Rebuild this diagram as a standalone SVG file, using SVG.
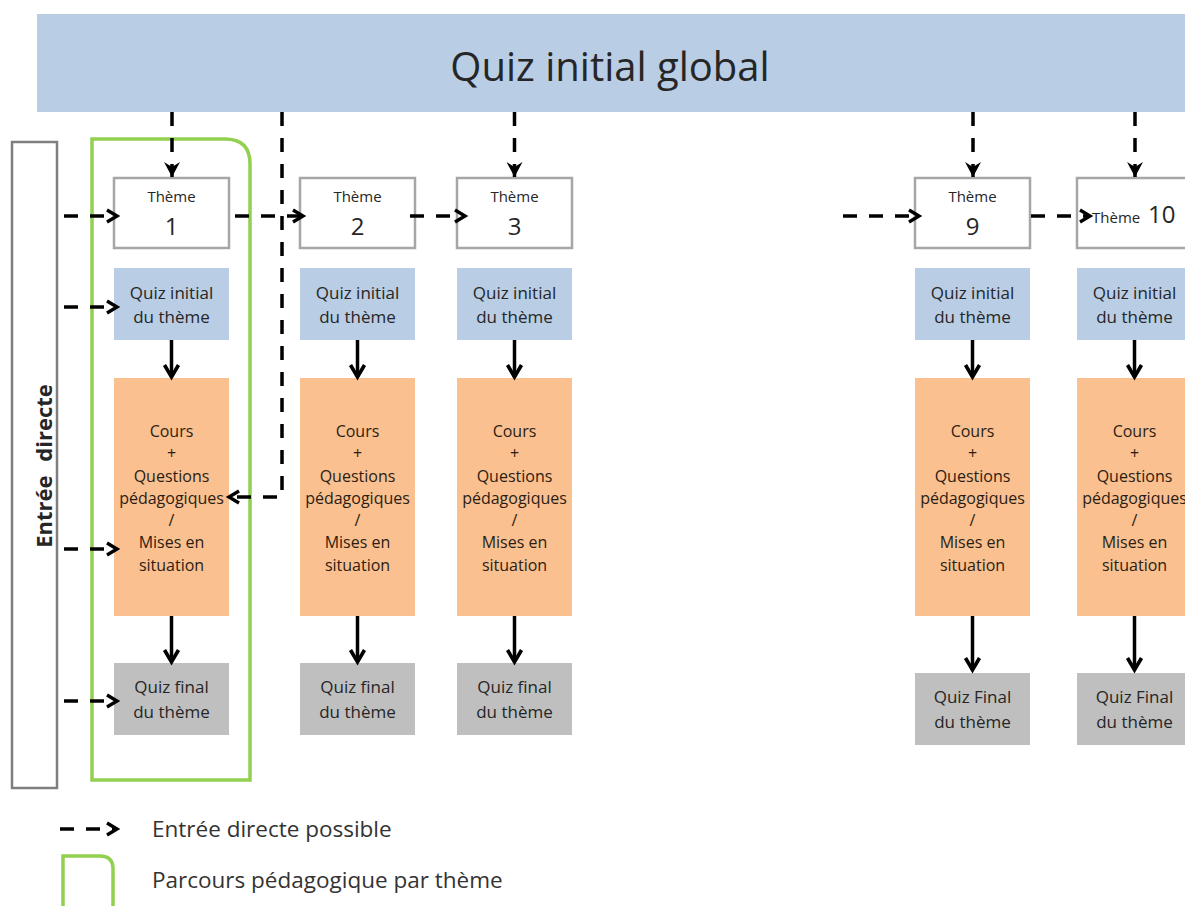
<svg xmlns="http://www.w3.org/2000/svg" width="1185" height="906" viewBox="0 0 1185 906">
<defs>
<style>
text{font-family:"Open Sans","Noto Sans","Liberation Sans",sans-serif;fill:#262626;text-anchor:middle}
.theme{fill:#fff;stroke:#a6a6a6;stroke-width:2.5}
.qi{fill:#b9cde5}
.cours{fill:#fac090}
.qf{fill:#bfbfbf}
.t15{font-size:15px}
.num{font-size:24px}
.t17{font-size:17px}
.ct{font-size:16px;fill:#2b1d12}
.lg{font-size:22.5px;text-anchor:start;fill:#333}
.dash{fill:none;stroke:#000;stroke-width:3.5;stroke-dasharray:14 12}
.solid{fill:none;stroke:#000;stroke-width:3.5}
</style>
<marker id="open" viewBox="-3 -3 18 18" refX="11" refY="6" markerWidth="18" markerHeight="18" markerUnits="userSpaceOnUse" orient="auto">
<path d="M1,0 L11,6 L1,12" fill="none" stroke="#000" stroke-width="3.4"/>
</marker>
<marker id="openL" viewBox="-3 -3 20 20" refX="13" refY="7" markerWidth="20" markerHeight="20" markerUnits="userSpaceOnUse" orient="auto">
<path d="M1,0 L13,7 L1,14" fill="none" stroke="#000" stroke-width="3.6"/>
</marker>
<marker id="fill" viewBox="0 0 16 16" refX="15" refY="8" markerWidth="16" markerHeight="16" markerUnits="userSpaceOnUse" orient="auto">
<path d="M0,0 L15,8 L0,16 L5,8 z" fill="#000"/>
</marker>
</defs>
<rect width="1185" height="906" fill="#fff"/>

<g id="quiz-global">
<rect x="37" y="14" width="1160" height="98" fill="#b9cde5"/>
<text x="610" y="81" style="font-size:40px">Quiz initial global</text>
</g>

<g id="entree-directe">
<rect x="12" y="142" width="45" height="646" fill="#fff" stroke="#7f7f7f" stroke-width="2.5"/>
<text transform="translate(52,466) rotate(-90)" style="font-size:22px;font-weight:bold">Entrée<tspan dx="8"> directe</tspan></text>
</g>

<g id="parcours">
<path d="M92,139 H225 Q250,139 250,164 V780 H92 Z" fill="none" stroke="#92d050" stroke-width="3.5"/>
</g>

<g id="col1">
<g id="theme1"><rect class="theme" x="114" y="178" width="115" height="70"/><text class="t15" x="171.5" y="202">Thème</text><text class="num" x="171.5" y="235">1</text></g>
<g id="qi1"><rect class="qi" x="114" y="268" width="115" height="72"/><text class="t17" x="171.5" y="299">Quiz initial</text><text class="t17" x="171.5" y="323">du thème</text></g>
<g id="cours1"><rect class="cours" x="114" y="378" width="115" height="238"/><text class="ct"><tspan x="171.5" y="437">Cours</tspan><tspan x="171.5" y="459">+</tspan><tspan x="171.5" y="482">Questions</tspan><tspan x="171.5" y="504">pédagogiques</tspan><tspan x="171.5" y="526">/</tspan><tspan x="171.5" y="548">Mises en</tspan><tspan x="171.5" y="571">situation</tspan></text></g>
<g id="qf1"><rect class="qf" x="114" y="663" width="115" height="72"/><text class="t17" x="171.5" y="693">Quiz final</text><text class="t17" x="171.5" y="718">du thème</text></g>
</g>

<g id="col2">
<g id="theme2"><rect class="theme" x="300" y="178" width="115" height="70"/><text class="t15" x="357.5" y="202">Thème</text><text class="num" x="357.5" y="235">2</text></g>
<g id="qi2"><rect class="qi" x="300" y="268" width="115" height="72"/><text class="t17" x="357.5" y="299">Quiz initial</text><text class="t17" x="357.5" y="323">du thème</text></g>
<g id="cours2"><rect class="cours" x="300" y="378" width="115" height="238"/><text class="ct"><tspan x="357.5" y="437">Cours</tspan><tspan x="357.5" y="459">+</tspan><tspan x="357.5" y="482">Questions</tspan><tspan x="357.5" y="504">pédagogiques</tspan><tspan x="357.5" y="526">/</tspan><tspan x="357.5" y="548">Mises en</tspan><tspan x="357.5" y="571">situation</tspan></text></g>
<g id="qf2"><rect class="qf" x="300" y="663" width="115" height="72"/><text class="t17" x="357.5" y="693">Quiz final</text><text class="t17" x="357.5" y="718">du thème</text></g>
</g>

<g id="col3">
<g id="theme3"><rect class="theme" x="457" y="178" width="115" height="70"/><text class="t15" x="514.5" y="202">Thème</text><text class="num" x="514.5" y="235">3</text></g>
<g id="qi3"><rect class="qi" x="457" y="268" width="115" height="72"/><text class="t17" x="514.5" y="299">Quiz initial</text><text class="t17" x="514.5" y="323">du thème</text></g>
<g id="cours3"><rect class="cours" x="457" y="378" width="115" height="238"/><text class="ct"><tspan x="514.5" y="437">Cours</tspan><tspan x="514.5" y="459">+</tspan><tspan x="514.5" y="482">Questions</tspan><tspan x="514.5" y="504">pédagogiques</tspan><tspan x="514.5" y="526">/</tspan><tspan x="514.5" y="548">Mises en</tspan><tspan x="514.5" y="571">situation</tspan></text></g>
<g id="qf3"><rect class="qf" x="457" y="663" width="115" height="72"/><text class="t17" x="514.5" y="693">Quiz final</text><text class="t17" x="514.5" y="718">du thème</text></g>
</g>

<g id="col9">
<g id="theme9"><rect class="theme" x="915" y="178" width="115" height="70"/><text class="t15" x="972.5" y="202">Thème</text><text class="num" x="972.5" y="235">9</text></g>
<g id="qi9"><rect class="qi" x="915" y="268" width="115" height="72"/><text class="t17" x="972.5" y="299">Quiz initial</text><text class="t17" x="972.5" y="323">du thème</text></g>
<g id="cours9"><rect class="cours" x="915" y="378" width="115" height="238"/><text class="ct"><tspan x="972.5" y="437">Cours</tspan><tspan x="972.5" y="459">+</tspan><tspan x="972.5" y="482">Questions</tspan><tspan x="972.5" y="504">pédagogiques</tspan><tspan x="972.5" y="526">/</tspan><tspan x="972.5" y="548">Mises en</tspan><tspan x="972.5" y="571">situation</tspan></text></g>
<g id="qf9"><rect class="qf" x="915" y="673" width="115" height="72"/><text class="t17" x="972.5" y="703">Quiz Final</text><text class="t17" x="972.5" y="728">du thème</text></g>
</g>

<g id="col10">
<g id="theme10"><rect class="theme" x="1077" y="178" width="120" height="70"/><text class="t15" x="1092" y="223" style="text-anchor:start">Thème</text><text class="num" x="1148" y="223" style="text-anchor:start">10</text></g>
<g id="qi10"><rect class="qi" x="1077" y="268" width="120" height="72"/><text class="t17" x="1134.5" y="299">Quiz initial</text><text class="t17" x="1134.5" y="323">du thème</text></g>
<g id="cours10"><rect class="cours" x="1077" y="378" width="120" height="238"/><text class="ct"><tspan x="1134.5" y="437">Cours</tspan><tspan x="1134.5" y="459">+</tspan><tspan x="1134.5" y="482">Questions</tspan><tspan x="1134.5" y="504">pédagogiques</tspan><tspan x="1134.5" y="526">/</tspan><tspan x="1134.5" y="548">Mises en</tspan><tspan x="1134.5" y="571">situation</tspan></text></g>
<g id="qf10"><rect class="qf" x="1077" y="673" width="120" height="72"/><text class="t17" x="1134.5" y="703">Quiz Final</text><text class="t17" x="1134.5" y="728">du thème</text></g>
</g>

<g id="connectors">
<path class="dash" d="M172,112 V177" marker-end="url(#fill)"/>
<path class="dash" d="M514.5,112 V177" marker-end="url(#fill)"/>
<path class="dash" d="M973,112 V177" marker-end="url(#fill)"/>
<path class="dash" d="M1135,112 V177" marker-end="url(#fill)"/>
<path class="dash" d="M282,112 V497 H229" marker-end="url(#open)"/>
<path class="dash" d="M64,216 H117" marker-end="url(#open)"/>
<path class="dash" d="M64,307 H117" marker-end="url(#open)"/>
<path class="dash" d="M64,549 H117" marker-end="url(#open)"/>
<path class="dash" d="M64,701 H117" marker-end="url(#open)"/>
<path class="dash" d="M235,216 H303" marker-end="url(#open)"/>
<path class="dash" d="M410,216 H465" marker-end="url(#open)"/>
<path class="dash" d="M843,216 H919" marker-end="url(#open)"/>
<path class="dash" d="M1031,216 H1090" marker-end="url(#open)"/>
<path class="solid" d="M171.5,340 V377" marker-end="url(#openL)"/>
<path class="solid" d="M171.5,616 V662" marker-end="url(#openL)"/>
<path class="solid" d="M357.5,340 V377" marker-end="url(#openL)"/>
<path class="solid" d="M357.5,616 V662" marker-end="url(#openL)"/>
<path class="solid" d="M514.5,340 V377" marker-end="url(#openL)"/>
<path class="solid" d="M514.5,616 V662" marker-end="url(#openL)"/>
<path class="solid" d="M972.5,340 V377" marker-end="url(#openL)"/>
<path class="solid" d="M972.5,616 V670" marker-end="url(#openL)"/>
<path class="solid" d="M1134.5,340 V377" marker-end="url(#openL)"/>
<path class="solid" d="M1134.5,616 V670" marker-end="url(#openL)"/>
</g>

<g id="legend">
<path class="dash" d="M60,829 H117" marker-end="url(#open)"/>
<text class="lg" x="152" y="837">Entrée directe possible</text>
<path d="M63,906 V856 H100 Q113,856 113,869 V906" fill="none" stroke="#92d050" stroke-width="3.5"/>
<text class="lg" x="152" y="888">Parcours pédagogique par thème</text>
</g>
</svg>
